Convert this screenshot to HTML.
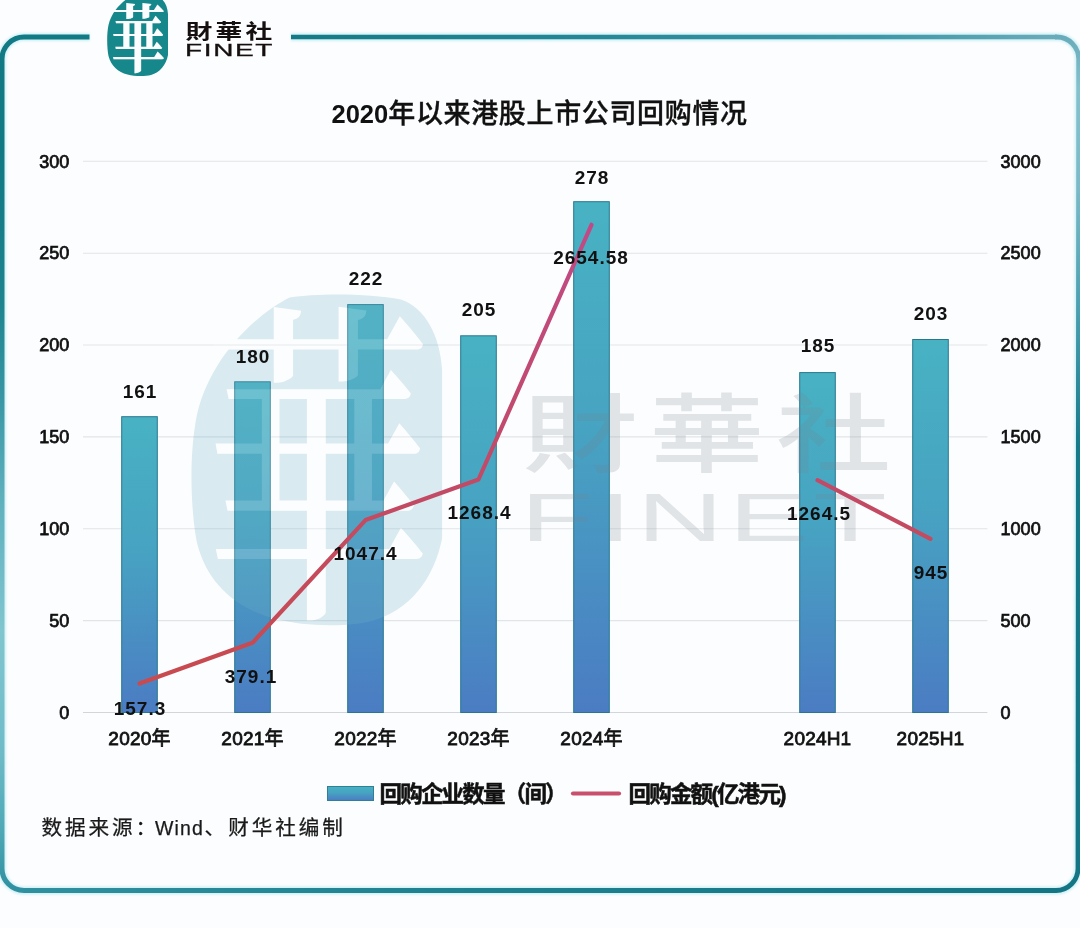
<!DOCTYPE html>
<html lang="zh-CN">
<head>
<meta charset="utf-8">
<title>2020年以来港股上市公司回购情况</title>
<style>
  html, body { margin: 0; padding: 0; background: #fcfdfe; }
  body { width: 1080px; height: 928px; overflow: hidden; position: relative; }
  svg { display: block; position: absolute; left: 0; top: 0; transform: translateZ(0); will-change: transform; }
  text { font-family: "Liberation Sans", "Noto Sans CJK SC", sans-serif; fill: #111; }
  .ax   { font-size: 18px; font-weight: 400; stroke: #111; stroke-width: 0.75px; }
  .cat  { font-size: 19px; letter-spacing: 0.2px; font-weight: 400; stroke: #111; stroke-width: 0.8px; text-anchor: middle; }
  .dl   { font-size: 19px; font-weight: 700; text-anchor: middle; letter-spacing: 1px; }
  .ttl  { font-size: 25.5px; font-weight: 700; }
  .ttl .c { font-size: 27px; letter-spacing: 0.65px; font-weight: 500; stroke: #111; stroke-width: 0.35px; }
  .lg   { font-size: 22.5px; font-weight: 700; stroke: #111; stroke-width: 0.5px; letter-spacing: -1.8px; }
  .src  { font-size: 20.6px; font-weight: 400; letter-spacing: 2.9px; fill: #1a1a1a; stroke: #1a1a1a; stroke-width: 0.25px; }
  .src .w { font-size: 19.5px; letter-spacing: 1.1px; }
</style>
</head>
<body>
<svg width="1080" height="928" viewBox="0 0 1080 928">
  <defs>
    <linearGradient id="barG" x1="0" y1="0" x2="0" y2="1">
      <stop offset="0" stop-color="#48b2c3"/>
      <stop offset="0.45" stop-color="#47a3c2"/>
      <stop offset="1" stop-color="#4b7cc3"/>
    </linearGradient>
    <linearGradient id="fL" gradientUnits="userSpaceOnUse" x1="0" y1="37" x2="0" y2="891">
      <stop offset="0" stop-color="#127a84"/>
      <stop offset="0.13" stop-color="#107983"/>
      <stop offset="0.31" stop-color="#1e838f"/>
      <stop offset="0.425" stop-color="#3a97a5"/>
      <stop offset="0.54" stop-color="#5fb0bd"/>
      <stop offset="0.695" stop-color="#80c5d0"/>
      <stop offset="0.835" stop-color="#6fbcc8"/>
      <stop offset="0.93" stop-color="#4fa8b6"/>
      <stop offset="1" stop-color="#2f909f"/>
    </linearGradient>
    <linearGradient id="fB" gradientUnits="userSpaceOnUse" x1="24" y1="0" x2="1056" y2="0">
      <stop offset="0" stop-color="#2f909f"/>
      <stop offset="0.4" stop-color="#1e8291"/>
      <stop offset="1" stop-color="#147585"/>
    </linearGradient>
    <linearGradient id="fR" gradientUnits="userSpaceOnUse" x1="0" y1="37" x2="0" y2="891">
      <stop offset="0" stop-color="#6aabbb"/>
      <stop offset="0.06" stop-color="#84c1cd"/>
      <stop offset="0.18" stop-color="#7ab9c7"/>
      <stop offset="0.32" stop-color="#4a9fb0"/>
      <stop offset="0.48" stop-color="#167a8a"/>
      <stop offset="1" stop-color="#147585"/>
    </linearGradient>
    <linearGradient id="fT" gradientUnits="userSpaceOnUse" x1="291" y1="0" x2="1056" y2="0">
      <stop offset="0" stop-color="#147a85"/>
      <stop offset="0.4" stop-color="#258796"/>
      <stop offset="0.77" stop-color="#3e97a7"/>
      <stop offset="1" stop-color="#6aabbb"/>
    </linearGradient>
    <linearGradient id="lineG" gradientUnits="userSpaceOnUse" x1="0" y1="225" x2="0" y2="685">
      <stop offset="0" stop-color="#c04a86"/>
      <stop offset="0.55" stop-color="#c24a66"/>
      <stop offset="1" stop-color="#c94a4e"/>
    </linearGradient>
    <path id="sealShape" d="M131 -3.5 C124 0 112 10 108.5 25 C106.5 35 107 48 108.5 56 C111 66 118 72 127.5 74.5 C135 76.5 145 76.5 151 75 C160 72.5 166 65 168 55 V14 C167.5 6 164 -1 158 -3 C150 -4.5 138 -4.5 131 -3.5 Z"/>
    <filter id="soft" x="-5%" y="-5%" width="110%" height="110%"><feGaussianBlur stdDeviation="1.3"/></filter>
  </defs>

  <rect x="0" y="0" width="1080" height="928" fill="#fcfdfe"/>

  <!-- frame -->
  <path d="M89.5 37 H24 A22 22 0 0 0 2 59 V868.5 A22 22 0 0 0 24 890.5 H1056 A22 22 0 0 0 1078 868.5 L1078.7 59 A22 22 0 0 0 1056.7 37 H291" fill="none" stroke="#a8e6ef" stroke-opacity="0.55" stroke-width="8" filter="url(#soft)"/>
  <g id="frame" fill="none" stroke-width="5">
    <path d="M89.5 37 H24 A22 22 0 0 0 2 59 V868.5 A22 22 0 0 0 24 890.5 H25" stroke="url(#fL)"/>
    <path d="M24 890.5 H1056.5" stroke="url(#fB)"/>
    <path d="M1056 890.5 A22 22 0 0 0 1078 868.5 L1078.7 59 A22 22 0 0 0 1056.7 37 H1055" stroke="url(#fR)" stroke-width="4.8"/>
    <path d="M1056.7 37 H291" stroke="url(#fT)" stroke-width="4.5"/>
  </g>

  <!-- gridlines -->
  <g stroke="#e2e5e8" stroke-width="1.1">
    <line x1="83" y1="161.3" x2="987.4" y2="161.3"/>
    <line x1="83" y1="253.2" x2="987.4" y2="253.2"/>
    <line x1="83" y1="345.0" x2="987.4" y2="345.0"/>
    <line x1="83" y1="436.9" x2="987.4" y2="436.9"/>
    <line x1="83" y1="528.8" x2="987.4" y2="528.8"/>
    <line x1="83" y1="620.6" x2="987.4" y2="620.6"/>
    <line x1="83" y1="712.5" x2="987.4" y2="712.5" stroke="#d2d6da"/>
  </g>

  <!-- bars -->
  <g fill="url(#barG)" stroke="#27788f" stroke-width="1">
    <rect x="121.7" y="416.7" width="35.6" height="295.8"/>
    <rect x="234.7" y="381.8" width="35.6" height="330.7"/>
    <rect x="347.7" y="304.6" width="35.6" height="407.9"/>
    <rect x="460.7" y="335.8" width="35.6" height="376.7"/>
    <rect x="573.7" y="201.7" width="35.6" height="510.8"/>
    <rect x="799.7" y="372.6" width="35.6" height="339.9"/>
    <rect x="912.7" y="339.5" width="35.6" height="373.0"/>
  </g>

  <!-- watermark (semi-transparent, above bars) -->
  <g id="wm">
    <mask id="sealMask" maskUnits="userSpaceOnUse" x="180" y="285" width="270" height="350">
      <rect x="180" y="285" width="270" height="350" fill="#fff"/>
      <g transform="translate(317 593) scale(1 1.48)"><text x="0" y="0" text-anchor="middle" style="font-family:'Liberation Serif','Noto Serif CJK SC',serif;font-size:230px;font-weight:500;fill:#000;stroke:none;">華</text></g>
    </mask>
    <g mask="url(#sealMask)"><use href="#sealShape" transform="translate(-250.1 311.9) scale(4.12)" fill="#6eb2c8" fill-opacity="0.25"/></g>
    <g transform="translate(317 593) scale(1 1.48)"><text x="0" y="0" text-anchor="middle" style="font-family:'Liberation Serif','Noto Serif CJK SC',serif;font-size:230px;font-weight:500;fill:#fff;fill-opacity:0.2;stroke:none;">華</text></g>
    <g transform="translate(522.5 466) scale(1.34 1)">
      <text x="0" y="0" style="font-family:'Liberation Sans','Noto Sans CJK TC',sans-serif;font-size:86px;font-weight:500;fill:#76828c;fill-opacity:0.2;letter-spacing:8.6px;">財華社</text>
    </g>
    <g transform="translate(520.2 541) scale(1.75 1)">
      <text x="0" y="0" style="font-size:68.5px;font-weight:400;fill:#76828c;fill-opacity:0.2;letter-spacing:2.9px;">FINET</text>
    </g>
  </g>

  <!-- lines -->
  <g fill="none" stroke="url(#lineG)" stroke-width="4.2" stroke-linecap="round" stroke-linejoin="round">
    <polyline points="139.5,683.6 252.5,642.8 365.5,520.1 478.5,479.5 591.5,224.8"/>
    <polyline points="817.5,480.2 930.5,538.9"/>
  </g>

  <!-- left axis -->
  <g class="ax" text-anchor="end">
    <text x="69.3" y="167.5">300</text>
    <text x="69.3" y="259.4">250</text>
    <text x="69.3" y="351.2">200</text>
    <text x="69.3" y="443.1">150</text>
    <text x="69.3" y="535.0">100</text>
    <text x="69.3" y="626.8">50</text>
    <text x="69.3" y="718.7">0</text>
  </g>
  <!-- right axis -->
  <g class="ax" text-anchor="start">
    <text x="1000.6" y="167.5">3000</text>
    <text x="1000.6" y="259.4">2500</text>
    <text x="1000.6" y="351.2">2000</text>
    <text x="1000.6" y="443.1">1500</text>
    <text x="1000.6" y="535.0">1000</text>
    <text x="1000.6" y="626.8">500</text>
    <text x="1000.6" y="718.7">0</text>
  </g>

  <!-- category labels -->
  <g class="cat">
    <text x="139.5" y="745">2020年</text>
    <text x="252.5" y="745">2021年</text>
    <text x="365.5" y="745">2022年</text>
    <text x="478.5" y="745">2023年</text>
    <text x="591.5" y="745">2024年</text>
    <text x="817.5" y="745">2024H1</text>
    <text x="930.5" y="745">2025H1</text>
  </g>

  <!-- bar data labels -->
  <g class="dl">
    <text x="140" y="398">161</text>
    <text x="253" y="363">180</text>
    <text x="366" y="285">222</text>
    <text x="479" y="316">205</text>
    <text x="592" y="184">278</text>
    <text x="818" y="352">185</text>
    <text x="931" y="320">203</text>
  </g>
  <!-- line data labels -->
  <g class="dl">
    <text x="140" y="715">157.3</text>
    <text x="251" y="683">379.1</text>
    <text x="365.5" y="559.5">1047.4</text>
    <text x="479.5" y="518.5">1268.4</text>
    <text x="591" y="264">2654.58</text>
    <text x="819" y="520">1264.5</text>
    <text x="931" y="579">945</text>
  </g>

  <!-- title -->
  <text class="ttl" x="331.5" y="123">2020<tspan class="c">年以来港股上市公司回购情况</tspan></text>

  <!-- legend -->
  <rect x="327.5" y="786.5" width="46" height="14" fill="url(#barG)" stroke="#2f7f96" stroke-width="1"/>
  <text class="lg" x="379.5" y="802">回购企业数量（间）</text>
  <line x1="573" y1="793.5" x2="619" y2="793.5" stroke="#c8506c" stroke-width="4.2" stroke-linecap="round"/>
  <text class="lg" x="628.5" y="802">回购金额(亿港元)</text>

  <!-- source -->
  <text class="src" x="41.5" y="834.7">数据来源：<tspan class="w" x="155">Wind</tspan><tspan x="204.5">、</tspan><tspan x="228.3">财华社编制</tspan></text>

  <!-- logo -->
  <g id="logo">
    <use href="#sealShape" fill="#16878b"/>
    <g transform="translate(138 66) scale(1 1.35)"><text x="0" y="0" text-anchor="middle" style="font-family:'Liberation Serif','Noto Serif CJK SC',serif;font-size:55px;font-weight:700;fill:#fcfdfe;">華</text></g>
    <g transform="translate(185.6 38.8) scale(1.34 1)"><text x="0" y="0" style="font-family:'Liberation Sans','Noto Sans CJK TC',sans-serif;font-size:20px;font-weight:700;fill:#15100f;letter-spacing:2.4px;">財華社</text></g>
    <g transform="translate(185.1 56.3) scale(1.75 1)"><text x="0" y="0" style="font-size:16px;font-weight:400;fill:#15100f;stroke:#15100f;stroke-width:0.3px;letter-spacing:0.9px;">FINET</text></g>
  </g>
</svg>
</body>
</html>
